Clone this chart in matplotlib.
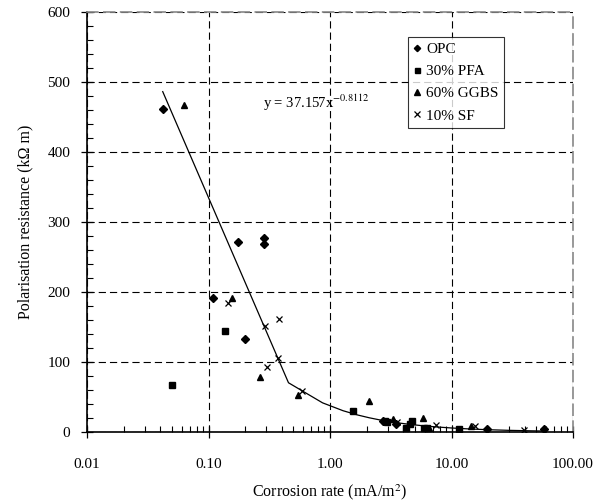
import numpy as np
import matplotlib
matplotlib.use("Agg")
import matplotlib.pyplot as plt
from matplotlib.ticker import FixedLocator, FixedFormatter, MultipleLocator

plt.rcParams['font.family'] = ['Liberation Serif', 'DejaVu Serif']
plt.rcParams['mathtext.fontset'] = 'stix'

# corrosion rate (mA/m2) vs polarisation resistance (kOhm m) per mix
opc_x = [0.042, 0.109, 0.176, 0.198, 0.288, 0.288, 2.75, 3.52, 19.6, 57.5]
opc_y = [461, 192, 272, 133, 277, 268, 16, 11, 5, 4]
pfa_x = [0.050, 0.137, 1.56, 2.82, 2.97, 4.22, 4.55, 4.70, 5.97, 6.3, 11.5]
pfa_y = [67, 145, 30, 16, 15, 6, 12, 16, 6, 6, 5]
ggbs_x = [0.063, 0.155, 0.264, 0.547, 2.10, 3.30, 5.86, 6.56, 14.4]
ggbs_y = [467, 191, 79, 53, 45, 18, 20, 6, 8]
sf_x = [0.145, 0.292, 0.303, 0.370, 0.377, 0.593, 3.55, 7.49, 15.6, 39.2]
sf_y = [184, 152, 93, 106, 162, 59, 15, 10, 9, 3]

# power-law fit y = a x^b
fit_a = 37.157
fit_b = -0.8112

x_ticks = [0.01, 0.1, 1, 10, 100]
x_labels = ['0.01', '0.10', '1.00', '10.00', '100.00']

fig = plt.figure(figsize=(6.02, 5.04), dpi=100)
ax = fig.add_axes([87 / 602, 72 / 504, 486 / 602, 420 / 504])

dash = (0, (6.5, 3.6))
ax.set_xscale('log')
ax.set_xlim(0.01, 100)
ax.set_ylim(0, 600)
ax.grid(True, which='major', color='black', linestyle=dash, linewidth=0.8)
ax.set_axisbelow(True)

ax.plot(opc_x, opc_y, linestyle='none', marker='D', ms=4, color='black', label='OPC')
ax.plot(pfa_x, pfa_y, linestyle='none', marker='s', ms=4.5, color='black', label='30% PFA')
ax.plot(ggbs_x, ggbs_y, linestyle='none', marker='^', ms=5, color='black', label='60% GGBS')
ax.plot(sf_x, sf_y, linestyle='none', marker='x', ms=5, mew=0.9, color='black', label='10% SF')

# trendline sampled at even steps in x, like a spreadsheet trendline
all_x = opc_x + pfa_x + ggbs_x + sf_x
xf = np.linspace(min(all_x), max(all_x), 140)
ax.plot(xf, fit_a * xf ** fit_b, color='black', linewidth=0.9)

ax.text(0.362, 0.771, r'y = 37.157x$^{-0.8112}$', transform=ax.transAxes,
        fontsize=10.5, ha='left', va='baseline')

ax.xaxis.set_major_locator(FixedLocator(x_ticks))
ax.xaxis.set_major_formatter(FixedFormatter(x_labels))
ax.yaxis.set_major_locator(MultipleLocator(100))
ax.yaxis.set_minor_locator(MultipleLocator(20))
ax.tick_params(which='major', direction='inout', length=8, width=0.9, labelsize=11, pad=8)
ax.tick_params(which='minor', direction='in', length=4, width=0.8)
ax.tick_params(axis='x', which='major', pad=15)

for side in ['top', 'right']:
    ax.spines[side].set_linestyle(dash)
    ax.spines[side].set_color('#888888')
    ax.spines[side].set_linewidth(1.2)
for side in ['left', 'bottom']:
    ax.spines[side].set_linewidth(1.2)

ax.set_xlabel('Corrosion rate (mA/m$^2$)', fontsize=11.5, labelpad=8)
ax.set_ylabel('Polarisation resistance (k\u03a9 m)', fontsize=11.5, labelpad=10)

leg = ax.legend(loc='upper left', bbox_to_anchor=(0.66, 0.94), borderaxespad=0,
                fontsize=11, frameon=True, fancybox=False, handlelength=0.5,
                handletextpad=0.35, labelspacing=0.55, borderpad=0.35, markerscale=0.8)
leg.get_frame().set_edgecolor('black')
leg.get_frame().set_linewidth(0.8)

fig.savefig('out.png', dpi=100)
